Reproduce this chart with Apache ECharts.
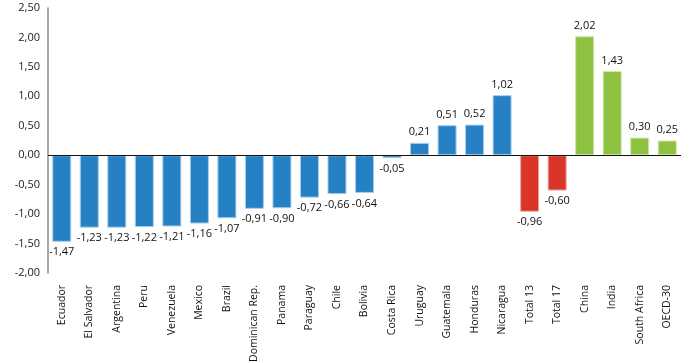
<!DOCTYPE html>
<html>
<head>
<meta charset="utf-8">
<script src="https://cdn.jsdelivr.net/npm/echarts@6/dist/echarts.min.js"></script>
<style>html,body{margin:0;padding:0;background:#fff}#c{width:700px;height:363px}</style>
</head>
<body>
<div id="c"></div>
<script>
const categories = ['Ecuador','El Salvador','Argentina','Peru','Venezuela','Mexico','Brazil','Dominican Rep.','Panama','Paraguay','Chile','Bolivia','Costa Rica','Uruguay','Guatemala','Honduras','Nicaragua','Total 13','Total 17','China','India','South Africa','OECD-30'];
const values = [-1.47,-1.23,-1.23,-1.22,-1.21,-1.16,-1.07,-0.91,-0.90,-0.72,-0.66,-0.64,-0.05,0.21,0.51,0.52,1.02,-0.96,-0.60,2.02,1.43,0.30,0.25];
const groups = ['lat','lat','lat','lat','lat','lat','lat','lat','lat','lat','lat','lat','lat','lat','lat','lat','lat','tot','tot','oth','oth','oth','oth'];
const colors = {lat:'#2680c4', tot:'#d93629', oth:'#8dc13f'};
const borders = {lat:'#a9cdea', tot:'#f0aaa4', oth:'#cfe6ad'};
const fmt = v => v.toFixed(2).replace('.', ',');
const FONT = 'Open Sans';

const chart = echarts.init(document.getElementById('c'));
chart.setOption({
  animation: false,
  grid: {left: 48, right: 19, top: 8, bottom: 90, containLabel: false, outerBoundsMode: 'none'},
  xAxis: [{
    type: 'category', data: categories, position: 'bottom',
    axisLine: {show: false, onZero: false}, axisTick: {show: false},
    axisLabel: {rotate: 90, interval: 0, margin: 12, fontFamily: FONT, fontSize: 10.5, color: '#111'}
  }],
  yAxis: {
    type: 'value', min: -2, max: 2.5, interval: 0.5,
    splitLine: {show: false},
    axisLine: {show: true, lineStyle: {color: '#8a8a8a', width: 1.5}},
    axisTick: {show: false},
    axisLabel: {formatter: v => fmt(v), fontFamily: FONT, fontSize: 11, color: '#222', margin: 8}
  },
  series: [{
    type: 'bar', barWidth: 19,
    data: values.map((v, i) => ({
      value: v,
      itemStyle: {color: colors[groups[i]], borderColor: borders[groups[i]], borderWidth: 1},
      label: {show: true, position: v >= 0 ? 'top' : 'bottom', distance: 5, formatter: p => fmt(p.value), fontFamily: FONT, fontSize: 11, color: '#111'}
    })),
    markLine: {
      silent: true, symbol: 'none', label: {show: false},
      lineStyle: {color: '#111', width: 1, type: 'solid'},
      data: [{yAxis: 0}]
    }
  }]
});
</script>
</body>
</html>
